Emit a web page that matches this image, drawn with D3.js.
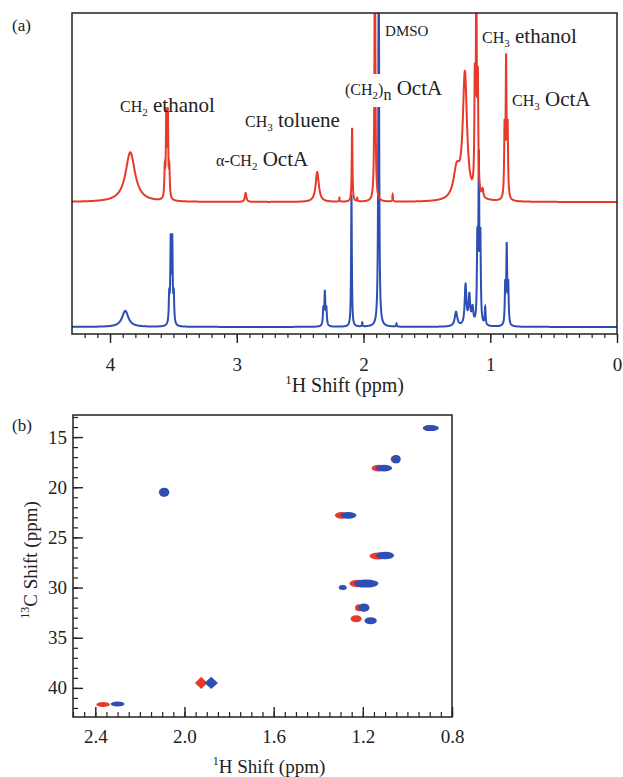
<!DOCTYPE html>
<html>
<head>
<meta charset="utf-8">
<script src="https://cdn.jsdelivr.net/npm/d3@7"></script>
<style>
body { margin: 0; background: #fff; }
svg, svg text { font-family: "Liberation Serif", "Times New Roman", serif !important; fill: #222; }
</style>
</head>
<body>
<svg id="chart" width="623" height="777"></svg>
<script>
// (a) 1H spectra, peaks as [ppm, height (% of panel), half width (ppm), multiplicity]
const redPeaks = [
    [3.84, 15.5, 0.045, 1],
    [3.55, 25.5, 0.004, 4],
    [2.93, 2.8, 0.007, 1],
    [2.365, 9.3, 0.015, 1],
    [2.19, 1.2, 0.003, 1],
    [2.09, 23, 0.0035, 1],
    [2.05, 1.0, 0.003, 1],
    [1.91, 90, 0.004, 1],
    [1.77, 2.2, 0.003, 1],
    [1.265, 9, 0.03, 1],
    [1.20, 39, 0.02, 1],
    [1.11, 66, 0.004, 3],
    [1.06, 2.5, 0.006, 1],
    [0.875, 41.7, 0.004, 3]
];
const bluePeaks = [
    [3.88, 5, 0.03, 1],
    [3.515, 25.5, 0.004, 4],
    [2.305, 10, 0.0045, 3],
    [2.095, 41, 0.0035, 1],
    [2.01, 1.2, 0.003, 1],
    [1.88, 120, 0.004, 1],
    [1.74, 1.0, 0.003, 1],
    [1.27, 4.5, 0.012, 1],
    [1.195, 12.5, 0.008, 1],
    [1.165, 9, 0.008, 1],
    [1.14, 5, 0.008, 1],
    [1.09, 50, 0.004, 3],
    [1.04, 5.5, 0.004, 1],
    [0.87, 24, 0.004, 3]
];
const redOffset = 41.1, blueOffset = 2.2;   // baseline of each trace (% of panel)
const couplingJ = 0.012;                     // ppm
const ticksA = [4, 3, 2, 1, 0];

// annotations (a)
const labelsA = [
    { ppm: 3.921, y: 112, pre: "CH", sub: "2", main: " ethanol" },
    { ppm: 2.935, y: 127, pre: "CH", sub: "3", main: " toluene" },
    { ppm: 3.164, y: 166, pre: "\u03b1-CH", sub: "2", main: " OctA" },
    { ppm: 1.065, y: 43, pre: "CH", sub: "3", main: " ethanol" },
    { ppm: 0.828, y: 106, pre: "CH", sub: "3", main: " OctA" }
];

// (b) HSQC cross peaks: [1H ppm, 13C ppm, 1H half width, 13C half width]
const redCross = [
    [0.90, 14.1, 0.03, 0.3],
    [1.055, 17.2, 0.02, 0.4],
    [1.13, 18.1, 0.03, 0.33],
    [2.095, 20.5, 0.02, 0.42],
    [1.295, 22.8, 0.03, 0.33],
    [1.13, 26.85, 0.04, 0.35],
    [1.22, 29.6, 0.04, 0.38],
    [1.215, 32.0, 0.02, 0.35],
    [1.23, 33.1, 0.025, 0.35],
    [2.365, 41.65, 0.03, 0.25]
];
const blueCross = [
    [0.895, 14.1, 0.036, 0.3],
    [1.05, 17.2, 0.02, 0.42],
    [1.105, 18.1, 0.036, 0.33],
    [2.09, 20.5, 0.022, 0.45],
    [1.265, 22.8, 0.036, 0.33],
    [1.10, 26.8, 0.04, 0.38],
    [1.29, 30.0, 0.018, 0.25],
    [1.185, 29.6, 0.055, 0.4],
    [1.195, 32.0, 0.025, 0.4],
    [1.165, 33.3, 0.028, 0.35],
    [2.30, 41.6, 0.031, 0.25]
];
// DMSO solvent cross peaks
const dmsoRed = [[1.925, 39.5, 0.028, 0.6]];
const dmsoBlue = [[1.88, 39.5, 0.03, 0.6]];
const ticksBx = [2.4, 2.0, 1.6, 1.2, 0.8];
const ticksBy = [15, 20, 25, 30, 35, 40];

const RED = "#e8392a", BLUE = "#2d4fb5";
const FONT = "Liberation Serif, serif";
const svg = d3.select("#chart").attr("font-family", FONT);

// ---------- panel (a) ----------
const A = { left: 72, right: 617, top: 13, bottom: 334 };
const xA = d3.scaleLinear().domain([4.3, 0]).range([A.left, A.right]);
const yA = d3.scaleLinear().domain([0, 100]).range([A.bottom, A.top]);

svg.append("clipPath").attr("id", "clipA")
    .append("rect").attr("x", A.left).attr("y", A.top)
    .attr("width", A.right - A.left).attr("height", A.bottom - A.top);

const patterns = { 1: [1], 2: [1, 1], 3: [0.5, 1, 0.5], 4: [1 / 3, 1, 1, 1 / 3] };

function spectrum(peaks, offset) {
    const lines = [];
    peaks.forEach(([p, h, w, m]) => {
        patterns[m].forEach((f, i) => lines.push([p + (i - (m - 1) / 2) * couplingJ, h * f, w]));
    });
    const pts = [];
    for (let x = 4.3; x >= 0; x -= 0.0004) {
        let v = 0;
        lines.forEach(([p, h, w]) => { v += h * w * w / ((x - p) * (x - p) + w * w); });
        pts.push([x, offset + v]);
    }
    return pts;
}

const line = d3.line().x(d => xA(d[0])).y(d => yA(d[1]));
const gA = svg.append("g").attr("clip-path", "url(#clipA)");
gA.append("path").datum(spectrum(bluePeaks, blueOffset))
    .attr("d", line).attr("fill", "none").attr("stroke", BLUE).attr("stroke-width", 2);
gA.append("path").datum(spectrum(redPeaks, redOffset))
    .attr("d", line).attr("fill", "none").attr("stroke", RED).attr("stroke-width", 2);

// axis (a), ticks point outward
const minorA = d3.range(0, 43).map(i => i / 10);
svg.append("g").attr("transform", `translate(0,${A.bottom})`)
    .call(d3.axisBottom(xA).tickValues(minorA).tickSize(4).tickSizeOuter(0).tickFormat(""))
    .call(g => g.select(".domain").remove())
    .call(g => g.selectAll("line").attr("stroke", "#222").attr("stroke-width", 1.2));
svg.append("g").attr("transform", `translate(0,${A.bottom})`)
    .call(d3.axisBottom(xA).tickValues(ticksA).tickSize(9).tickSizeOuter(0).tickFormat(d3.format("d")))
    .attr("font-family", FONT)
    .call(g => g.select(".domain").remove())
    .call(g => g.selectAll("line").attr("stroke", "#222").attr("stroke-width", 1.4))
    .call(g => g.selectAll("text").attr("y", 37).attr("dy", null)
        .attr("font-size", 19).attr("fill", "#222"));

svg.append("rect").attr("x", A.left).attr("y", A.top)
    .attr("width", A.right - A.left).attr("height", A.bottom - A.top)
    .attr("fill", "none").attr("stroke", "#222").attr("stroke-width", 1.5);

function subLabel(sel, d) {
    const t = sel.append("text").attr("x", xA(d.ppm)).attr("y", d.y);
    t.append("tspan").attr("font-size", 16).text(d.pre);
    t.append("tspan").attr("font-size", 11).attr("dy", 4).text(d.sub);
    t.append("tspan").attr("font-size", 21).attr("dy", -4).text(d.main);
    return t;
}
labelsA.forEach(d => subLabel(svg, d));

// (CH2)n OctA label sits on a white patch that hides the DMSO lines
const nLabel = svg.append("g");
const nt = nLabel.append("text").attr("x", xA(2.146)).attr("y", 95);
nt.append("tspan").attr("font-size", 16).text("(CH");
nt.append("tspan").attr("font-size", 11).attr("dy", 4).text("2");
nt.append("tspan").attr("font-size", 16).attr("dy", -4).text(")");
nt.append("tspan").attr("font-size", 16).attr("dy", 5).text("n");
nt.append("tspan").attr("font-size", 21).attr("dy", -5).text(" OctA");
const bb = nt.node().getBBox();
nLabel.insert("rect", "text").attr("x", bb.x).attr("y", bb.y - 2)
    .attr("width", 42).attr("height", bb.height + 6).attr("fill", "#fff");

svg.append("text").attr("x", xA(1.83)).attr("y", 36).attr("font-size", 15).text("DMSO");
svg.append("text").attr("x", 12).attr("y", 31).attr("font-size", 17).text("(a)");

const titleA = svg.append("text").attr("x", (A.left + A.right) / 2).attr("y", 392)
    .attr("text-anchor", "middle").attr("font-size", 20);
titleA.append("tspan").attr("font-size", 13).attr("dy", -8).text("1");
titleA.append("tspan").attr("dy", 8).text("H Shift (ppm)");

// ---------- panel (b) ----------
const B = { left: 73, right: 452, top: 415, bottom: 717 };
const xB = d3.scaleLinear().domain([2.5, 0.8]).range([B.left, B.right]);
const yB = d3.scaleLinear().domain([12.8, 42.9]).range([B.top, B.bottom]);

function blobs(data, color) {
    svg.append("g").selectAll("ellipse").data(data).join("ellipse")
        .attr("cx", d => xB(d[0])).attr("cy", d => yB(d[1]))
        .attr("rx", d => Math.abs(xB(d[0] + d[2]) - xB(d[0])))
        .attr("ry", d => Math.abs(yB(d[1] + d[3]) - yB(d[1])))
        .attr("fill", color);
}
function diamonds(data, color) {
    svg.append("g").selectAll("path").data(data).join("path")
        .attr("d", d => {
            const cx = xB(d[0]), cy = yB(d[1]);
            const rx = Math.abs(xB(d[0] + d[2]) - cx), ry = Math.abs(yB(d[1] + d[3]) - cy);
            return `M${cx - rx},${cy}L${cx},${cy - ry}L${cx + rx},${cy}L${cx},${cy + ry}Z`;
        })
        .attr("fill", color);
}
blobs(redCross, RED);
diamonds(dmsoRed, RED);
blobs(blueCross, BLUE);
diamonds(dmsoBlue, BLUE);

// axes (b), ticks point inward
const minorBx = d3.range(16, 51).map(i => i * 0.05);
svg.append("g").attr("transform", `translate(0,${B.bottom})`)
    .call(d3.axisBottom(xB).tickValues(minorBx).tickSize(-5).tickSizeOuter(0).tickFormat(""))
    .call(g => g.select(".domain").remove())
    .call(g => g.selectAll("line").attr("stroke", "#222").attr("stroke-width", 1.2));
svg.append("g").attr("transform", `translate(0,${B.bottom})`)
    .call(d3.axisBottom(xB).tickValues(ticksBx).tickSize(-10).tickSizeOuter(0).tickFormat(d3.format(".1f")))
    .attr("font-family", FONT)
    .call(g => g.select(".domain").remove())
    .call(g => g.selectAll("line").attr("stroke", "#222").attr("stroke-width", 1.4))
    .call(g => g.selectAll("text").attr("y", 26).attr("dy", null)
        .attr("font-size", 19).attr("fill", "#222"));

const minorBy = d3.range(13, 43);
svg.append("g").attr("transform", `translate(${B.left},0)`)
    .call(d3.axisLeft(yB).tickValues(minorBy).tickSize(-5).tickSizeOuter(0).tickFormat(""))
    .call(g => g.select(".domain").remove())
    .call(g => g.selectAll("line").attr("stroke", "#222").attr("stroke-width", 1.2));
svg.append("g").attr("transform", `translate(${B.left},0)`)
    .call(d3.axisLeft(yB).tickValues(ticksBy).tickSize(-10).tickSizeOuter(0).tickPadding(6))
    .attr("font-family", FONT)
    .call(g => g.select(".domain").remove())
    .call(g => g.selectAll("line").attr("stroke", "#222").attr("stroke-width", 1.4))
    .call(g => g.selectAll("text").attr("font-size", 19).attr("fill", "#222"));

svg.append("rect").attr("x", B.left).attr("y", B.top)
    .attr("width", B.right - B.left).attr("height", B.bottom - B.top)
    .attr("fill", "none").attr("stroke", "#222").attr("stroke-width", 1.5);

svg.append("text").attr("x", 12).attr("y", 431).attr("font-size", 17).text("(b)");

const titleB = svg.append("text").attr("x", 269).attr("y", 773)
    .attr("text-anchor", "middle").attr("font-size", 19);
titleB.append("tspan").attr("font-size", 12).attr("dy", -8).text("1");
titleB.append("tspan").attr("dy", 8).text("H Shift (ppm)");

const titleBy = svg.append("text").attr("transform", "translate(37,560) rotate(-90)")
    .attr("text-anchor", "middle").attr("font-size", 19);
titleBy.append("tspan").attr("font-size", 12).attr("dy", -8).text("13");
titleBy.append("tspan").attr("dy", 8).text("C Shift (ppm)");
</script>
</body>
</html>
